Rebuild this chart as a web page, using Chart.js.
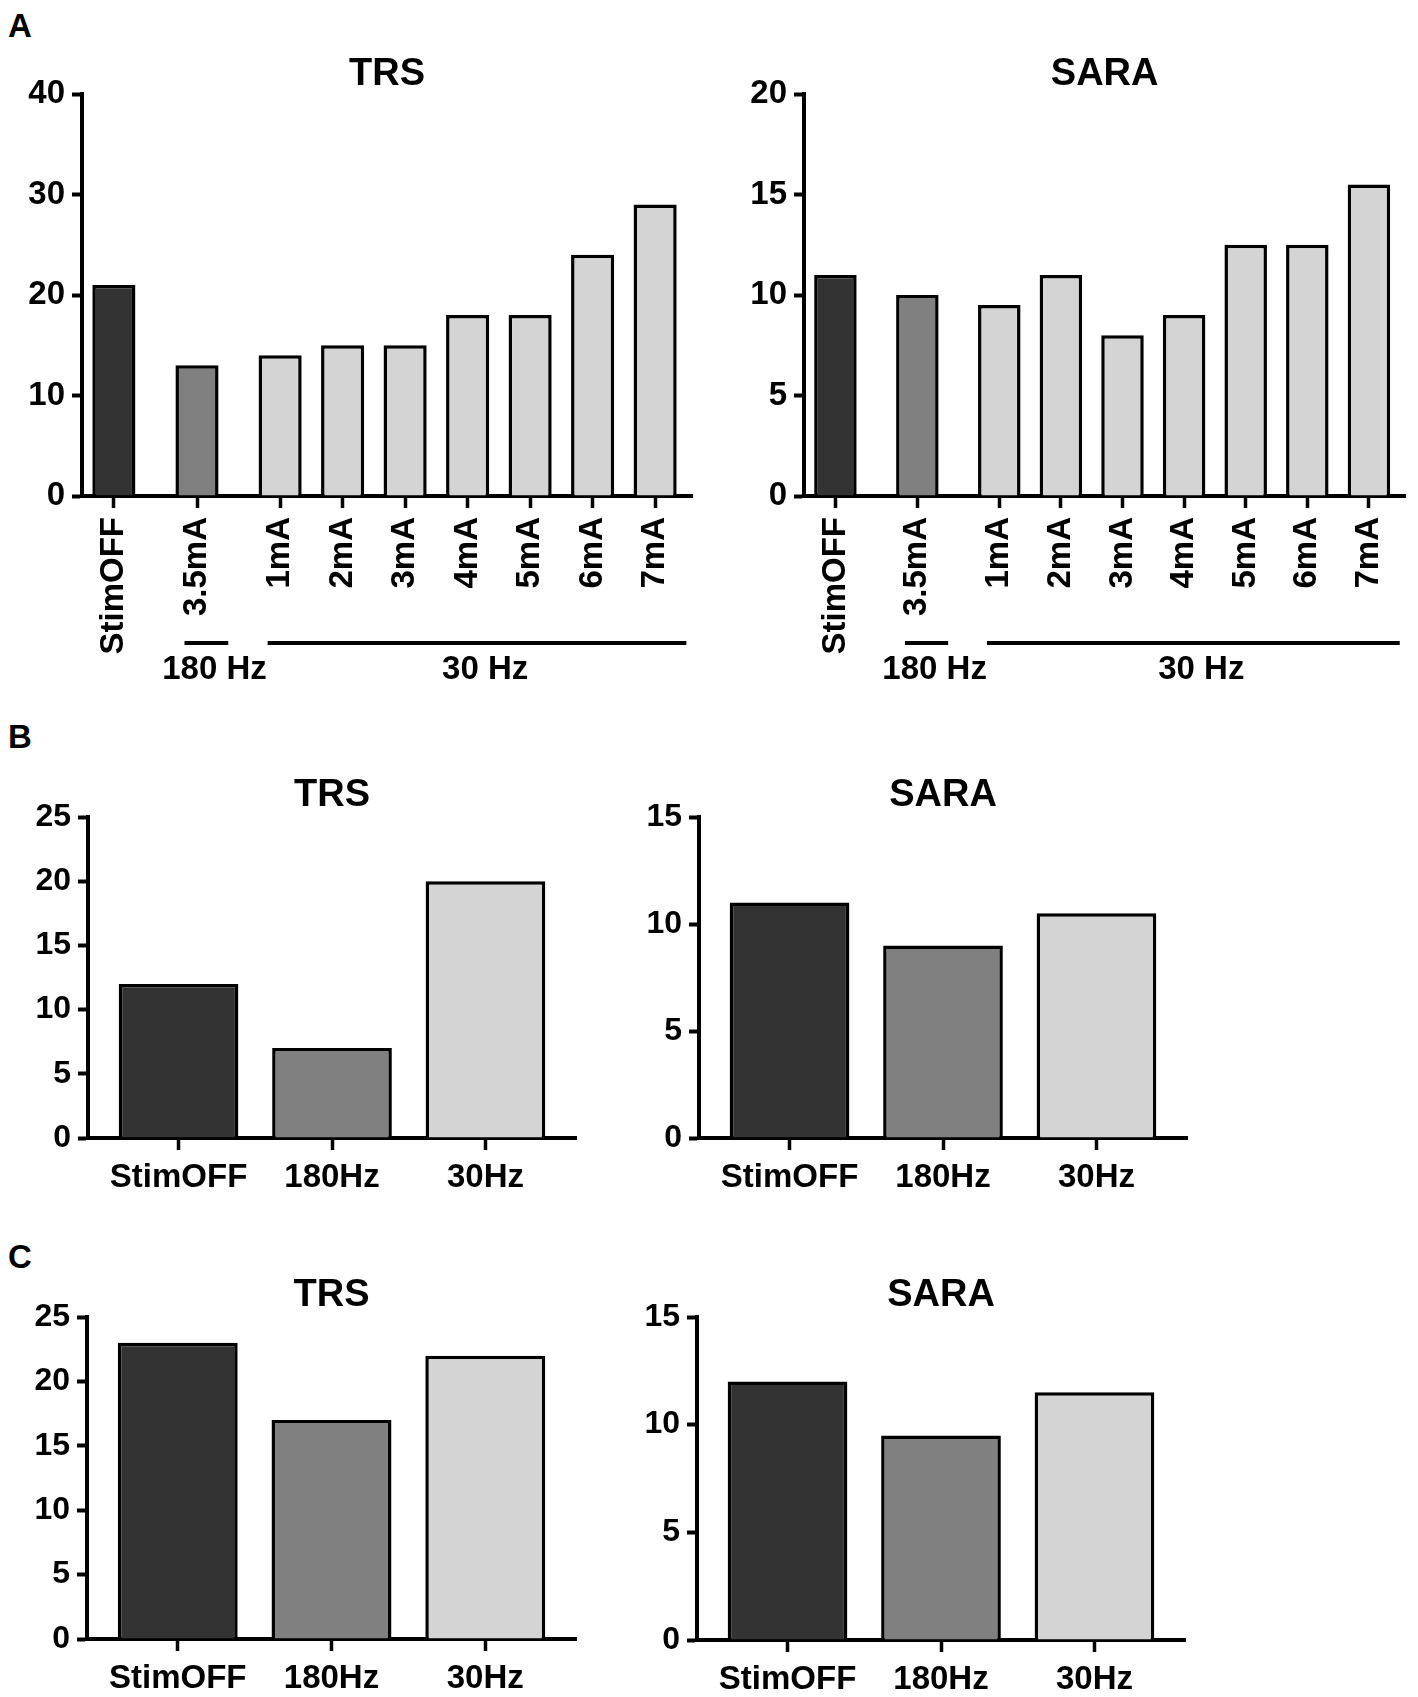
<!DOCTYPE html>
<html>
<head>
<meta charset="utf-8">
<script src="https://cdn.jsdelivr.net/npm/chart.js@4.4.1/dist/chart.umd.min.js"></script>
<style>
  body { margin: 0; background: #fff; }
  #fig { position: relative; width: 1418px; height: 1697px; overflow: hidden; background: #fff; }
  #fig canvas { position: absolute; }
  .lbl { position: absolute; font: bold 33px "Liberation Sans", Arial, sans-serif; line-height: 1; color: #000; }
</style>
</head>
<body>
<div id="fig">
  <div class="lbl" style="left:8px;top:9px">A</div>
  <div class="lbl" style="left:8px;top:720px">B</div>
  <div class="lbl" style="left:8px;top:1240px">C</div>
</div>
<script>
// panel A: each setting
const aLabels = ['StimOFF', '3.5mA', '1mA', '2mA', '3mA', '4mA', '5mA', '6mA', '7mA'];
const aGroups = [0, 1, 2, 2, 2, 2, 2, 2, 2];
const aGroupNames = ['', '180 Hz', '30 Hz'];
const aTRS = [21, 13, 14, 15, 15, 18, 18, 24, 29];
const aSARA = [11, 10, 9.5, 11, 8, 9, 12.5, 12.5, 15.5];

// panels B and C: per condition
const bcLabels = ['StimOFF', '180Hz', '30Hz'];
const bcGroups = [0, 1, 2];
const bTRS = [12, 7, 20];
const bSARA = [11, 9, 10.5];
const cTRS = [23, 17, 22];
const cSARA = [12, 9.5, 11.5];

const shades = ['#333333', '#808080', '#d4d4d4'];
const FONT = '"Liberation Sans", Arial, sans-serif';
const fig = document.getElementById('fig');

const panelTitle = {
  id: 'panelTitle',
  afterDraw(chart, args, opts) {
    const a = chart.chartArea;
    const ctx = chart.ctx;
    ctx.save();
    ctx.font = 'bold 38px ' + FONT;
    ctx.fillStyle = '#000';
    ctx.textAlign = 'center';
    ctx.textBaseline = 'middle';
    ctx.fillText(opts.text, (a.left + a.right) / 2, a.top - opts.offset);
    ctx.restore();
  }
};

const groupBrackets = {
  id: 'groupBrackets',
  afterDraw(chart, args, opts) {
    if (!opts.names) return;
    const xs = chart.scales.x;
    const base = chart.chartArea.bottom;
    const ctx = chart.ctx;
    ctx.save();
    ctx.strokeStyle = '#000';
    ctx.fillStyle = '#000';
    ctx.lineWidth = 4;
    ctx.font = 'bold 33px ' + FONT;
    ctx.textAlign = 'center';
    ctx.textBaseline = 'middle';
    opts.names.forEach((name, g) => {
      if (!name) return;
      const ps = opts.pos.filter((p, i) => opts.groups[i] === g);
      const lo = Math.min(...ps), hi = Math.max(...ps);
      ctx.beginPath();
      ctx.moveTo(xs.getPixelForValue(lo - 0.2), base + 147);
      ctx.lineTo(xs.getPixelForValue(hi + 0.5), base + 147);
      ctx.stroke();
      ctx.fillText(name, xs.getPixelForValue((lo + hi) / 2 + 0.28), base + 174);
    });
    ctx.restore();
  }
};

function drawPanel(cfg) {
  const cv = document.createElement('canvas');
  cv.width = cfg.w;
  cv.height = cfg.h;
  cv.style.left = cfg.left + 'px';
  cv.style.top = cfg.top + 'px';
  fig.appendChild(cv);

  // gaps between stimulation groups
  const pos = cfg.labels.map((l, i) => i + cfg.gap * cfg.groups[i]);

  new Chart(cv.getContext('2d'), {
    type: 'bar',
    data: {
      datasets: [{
        data: pos.map((p, i) => ({ x: p, y: cfg.values[i] })),
        backgroundColor: cfg.groups.map(g => shades[g]),
        borderColor: '#000',
        borderWidth: 3.5,
        categoryPercentage: 1,
        barPercentage: cfg.barPct
      }]
    },
    options: {
      responsive: false,
      animation: false,
      devicePixelRatio: 1,
      layout: { padding: { top: cfg.padTop, right: cfg.padRight, left: 0, bottom: 0 } },
      plugins: {
        legend: { display: false },
        tooltip: { enabled: false },
        panelTitle: { text: cfg.title, offset: cfg.titleOff },
        groupBrackets: cfg.names ? { names: cfg.names, groups: cfg.groups, pos: pos } : {}
      },
      scales: {
        x: {
          type: 'linear',
          min: cfg.xMin,
          max: cfg.xMax,
          offset: false,
          afterBuildTicks: s => { s.ticks = pos.map(v => ({ value: v })); },
          afterFit: s => { s.height = cfg.axisH; },
          grid: { display: true, offset: false, drawOnChartArea: false, drawTicks: true, tickLength: 12, tickWidth: 3.5, color: '#000' },
          border: { display: true, color: '#000', width: 4 },
          ticks: {
            autoSkip: false,
            minRotation: cfg.rot,
            maxRotation: cfg.rot,
            padding: cfg.xPad,
            color: '#000',
            font: { family: FONT, weight: 'bold', size: 33 },
            callback: (v, i) => cfg.labels[i]
          }
        },
        y: {
          min: 0,
          max: cfg.yMax,
          afterFit: s => { s.width = cfg.axisW; },
          grid: { display: true, drawOnChartArea: false, drawTicks: true, tickLength: 10, tickWidth: 4, color: '#000' },
          border: { display: true, color: '#000', width: 4 },
          ticks: {
            stepSize: cfg.yStep,
            padding: 7,
            color: '#000',
            font: { family: FONT, weight: 'bold', size: cfg.yFont }
          }
        }
      }
    },
    plugins: [panelTitle, groupBrackets]
  });
}

const panelA = { labels: aLabels, groups: aGroups, names: aGroupNames, gap: 0.33, barPct: 0.69,
  xMin: -0.51, xMax: 9.25, rot: 90, xPad: 9, yFont: 33, top: 40, h: 660, padTop: 54, axisH: 204, w: 709, titleOff: 19 };
drawPanel(Object.assign({}, panelA, { title: 'TRS', values: aTRS, yMax: 40, yStep: 10,
  left: 0, axisW: 82, padRight: 17 }));
drawPanel(Object.assign({}, panelA, { title: 'SARA', values: aSARA, yMax: 20, yStep: 5,
  left: 709, axisW: 95, padRight: 8 }));

const panelBC = { labels: bcLabels, groups: bcGroups, gap: 0, barPct: 0.78,
  xMin: -0.59, xMax: 2.59, rot: 0, xPad: 8, yFont: 32, w: 640, padTop: 67, titleOff: 21 };
drawPanel(Object.assign({}, panelBC, { title: 'TRS', values: bTRS, yMax: 25, yStep: 5,
  left: 0, top: 750, h: 450, axisW: 88, padRight: 64, axisH: 62 }));
drawPanel(Object.assign({}, panelBC, { title: 'SARA', values: bSARA, yMax: 15, yStep: 5,
  left: 640, top: 750, h: 450, axisW: 59, padRight: 93, axisH: 62 }));
drawPanel(Object.assign({}, panelBC, { title: 'TRS', values: cTRS, yMax: 25, yStep: 5,
  left: 0, top: 1250, h: 447, axisW: 87, padRight: 64, axisH: 58 }));
drawPanel(Object.assign({}, panelBC, { title: 'SARA', values: cSARA, yMax: 15, yStep: 5,
  left: 640, top: 1250, h: 447, axisW: 57, padRight: 95, axisH: 57 }));
</script>
</body>
</html>
